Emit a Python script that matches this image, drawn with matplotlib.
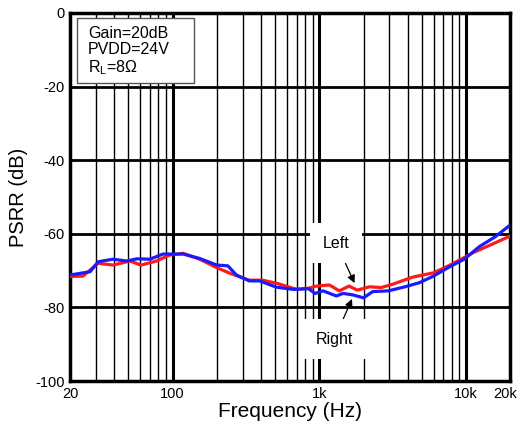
import numpy as np
import matplotlib
matplotlib.use("Agg")
import matplotlib.pyplot as plt
import matplotlib.transforms as mtransforms
from matplotlib.patches import Rectangle
from matplotlib.ticker import FixedLocator, NullFormatter

plt.rcParams['font.family'] = ['Liberation Sans', 'DejaVu Sans']
plt.rcParams['axes.unicode_minus'] = False

# PSRR readings (Hz, dB)
right_freq = [20, 27.4, 31.1, 39.3, 48.7, 57, 70, 86, 118, 153, 200, 238, 272, 333, 392,
              509, 664, 842, 935, 1061, 1307, 1449, 1693, 2000, 2312, 2954, 3832, 4793,
              5990, 7774, 9722, 12300, 15800, 20000]
right_psrr = [-71.2, -70.3, -67.6, -66.9, -67.4, -66.8, -66.9, -65.5, -65.5, -66.7, -68.5,
              -68.7, -71.2, -72.8, -72.8, -74.5, -75.1, -74.9, -76.2, -75.5, -76.9, -76.2,
              -76.6, -77.4, -75.7, -75.5, -74.4, -73.3, -71.5, -68.9, -66.9, -63.5, -60.8,
              -57.6]

left_freq = [20, 24.5, 31, 39.3, 51.2, 61, 77.5, 95, 118, 153, 200, 245, 333, 410, 520,
             698, 842, 958, 1170, 1370, 1593, 1811, 2200, 2640, 3160, 4300, 5990, 7774,
             11200, 15100, 20000]
left_psrr = [-71.6, -71.5, -68, -68.5, -67.4, -68.5, -67.4, -65.8, -65.3, -66.9, -69.2,
             -70.7, -72.6, -72.6, -73.5, -75.1, -74.8, -74.2, -73.9, -75.5, -74.2, -75.3,
             -74.4, -74.6, -73.7, -71.8, -70.6, -68.5, -65.1, -62.8, -60.6]

x_ticks = [20, 100, 1000, 10000, 20000]
x_labels = ['20', '100', '1k', '10k', '20k']
y_ticks = [0, -20, -40, -60, -80, -100]

fig = plt.figure(figsize=(5.21, 4.32), dpi=100)
ax = fig.add_axes([0.1344, 0.118, 0.845, 0.852])

# grid: thin lines at every minor decade step, thick at decades
minor = [m * 10 ** e for e in range(1, 5) for m in range(2, 10) if 20 < m * 10 ** e < 20000]
for f in minor:
    ax.axvline(f, color='black', lw=1.0, zorder=1)
for f in [100, 1000, 10000]:
    ax.axvline(f, color='black', lw=2.2, zorder=1)
for y in [-20, -40, -60, -80]:
    ax.axhline(y, color='black', lw=2.0, zorder=1)

ax.plot(left_freq, left_psrr, color='#ff1a1a', lw=2.3, zorder=3)
ax.plot(right_freq, right_psrr, color='#1a1aff', lw=2.3, zorder=4)

ax.set_xscale('log')
ax.set_xlim(20, 20000)
ax.set_ylim(-100, 0)
ax.xaxis.set_major_locator(FixedLocator(x_ticks))
ax.set_xticklabels(x_labels)
ax.xaxis.set_minor_formatter(NullFormatter())
ax.set_yticks(y_ticks)
ax.tick_params(axis='both', which='both', length=0, labelsize=10.5, pad=4)
for s in ax.spines.values():
    s.set_linewidth(2.5)

# nudge the end labels inward a little
labels = ax.get_xticklabels()
labels[-1].set_transform(labels[-1].get_transform() +
                         mtransforms.ScaledTranslation(-5 / 100, 0, fig.dpi_scale_trans))

ax.set_xlabel('Frequency (Hz)', fontsize=15, labelpad=1)
ax.set_ylabel('PSRR (dB)', fontsize=14.5, labelpad=5)

# conditions box
ax.add_patch(Rectangle((0.016, 0.81), 0.266, 0.176, transform=ax.transAxes,
                       fc='white', ec='#555555', lw=1, zorder=6))
ax.text(0.041, 0.965, 'Gain=20dB\nPVDD=24V\nR$_\\mathregular{L}$=8\u03a9',
        transform=ax.transAxes, ha='left', va='top', fontsize=11.5, linespacing=1.1,
        zorder=7)

ax.annotate('Left', xy=(1738, -73.4), xytext=(1300, -62.5), ha='center', va='center',
            fontsize=11.5, zorder=6,
            bbox=dict(boxstyle='square,pad=0.8', fc='white', ec='none'),
            arrowprops=dict(arrowstyle='-|>', color='black', lw=0.9, shrinkA=0, shrinkB=0))
ax.annotate('Right', xy=(1670, -77.7), xytext=(1266, -88.6), ha='center', va='center',
            fontsize=11.5, zorder=6,
            bbox=dict(boxstyle='square,pad=0.8', fc='white', ec='none'),
            arrowprops=dict(arrowstyle='-|>', color='black', lw=0.9, shrinkA=0, shrinkB=0))

fig.savefig('out.png', dpi=100)
